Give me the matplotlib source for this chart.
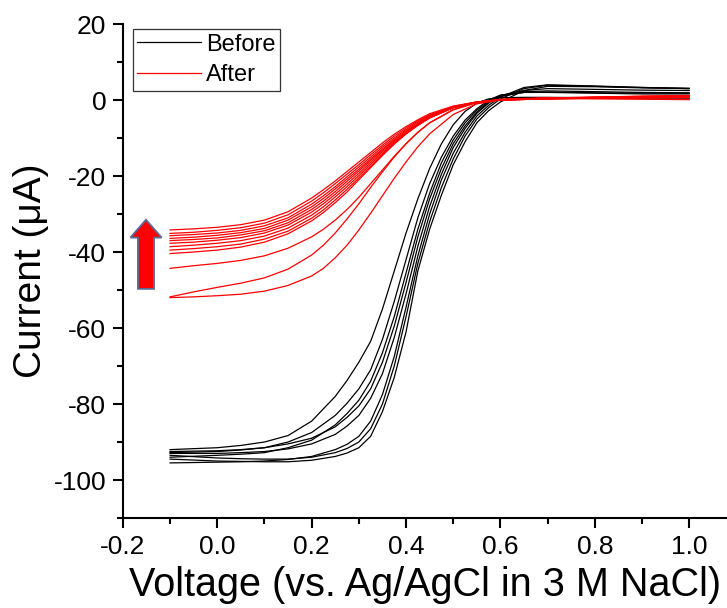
import numpy as np
import matplotlib
matplotlib.use('Agg')
import matplotlib.pyplot as plt
import matplotlib.patches as mpatches

plt.rcParams['font.family'] = ['Liberation Sans', 'DejaVu Sans']
plt.rcParams['axes.unicode_minus'] = False

# potential grids (V vs Ag/AgCl)
volt_before = [-0.1, 0.0, 0.05, 0.1, 0.15, 0.2, 0.25, 0.275, 0.3, 0.325, 0.35, 0.375, 0.4,
               0.425, 0.45, 0.475, 0.5, 0.525, 0.55, 0.575, 0.6, 0.65, 0.7, 0.8, 0.9, 1.0]
volt_after = [-0.1, -0.05, 0.0, 0.05, 0.1, 0.15, 0.2, 0.225, 0.25, 0.275, 0.3, 0.325,
              0.35, 0.375, 0.4, 0.425, 0.45, 0.5, 0.55, 0.6, 0.7, 0.8, 0.9, 1.0]

# current traces (uA), one list per sweep
before_currents = [
    [-94.5, -95.0, -95.1, -95.2, -95.2, -94.8, -93.8, -92.9, -91.5, -88.5, -82.0, -73.0, -61.0,
     -45.0, -34.0, -25.0, -17.0, -11.0, -6.0, -2.8, -0.5, 2.5, 3.6, 3.5, 3.2, 3.0],
    [-93.5, -94.2, -94.4, -94.5, -94.5, -94.0, -92.8, -91.7, -90.0, -86.5, -80.0, -70.0, -57.0,
     -43.0, -32.0, -23.0, -15.5, -9.5, -5.0, -2.0, 0.3, 3.0, 3.9, 3.6, 3.3, 3.1],
    [-95.5, -95.3, -95.2, -95.0, -94.6, -93.8, -92.0, -90.6, -88.5, -84.5, -77.5, -67.5, -54.5,
     -41.0, -30.0, -21.0, -14.0, -8.5, -4.2, -1.4, 0.8, 3.3, 4.0, 3.7, 3.3, 3.0],
    [-93.0, -93.0, -92.8, -92.5, -91.8, -90.5, -88.0, -85.8, -83.0, -78.5, -72.0, -62.5, -51.0,
     -38.5, -28.0, -19.5, -12.5, -7.5, -3.5, -0.8, 1.0, 2.2, 2.4, 2.2, 2.0, 1.9],
    [-92.5, -92.3, -92.0, -91.5, -90.5, -89.0, -86.0, -83.5, -80.5, -76.0, -69.0, -59.5, -48.0,
     -36.0, -26.0, -18.0, -11.5, -6.8, -3.2, -0.6, 1.0, 2.0, 2.1, 1.9, 1.8, 1.8],
    [-94.0, -93.5, -93.2, -92.8, -91.5, -89.5, -85.5, -82.5, -79.0, -74.0, -66.5, -57.0, -45.5,
     -34.0, -24.5, -16.5, -10.5, -6.0, -2.7, -0.3, 1.2, 2.5, 3.0, 2.8, 2.6, 2.5],
    [-92.8, -92.5, -92.1, -91.5, -90.0, -87.5, -83.0, -79.8, -76.0, -71.0, -63.0, -53.0, -42.0,
     -31.0, -22.0, -15.0, -9.5, -5.3, -2.3, 0.0, 1.3, 2.0, 2.0, 1.8, 1.6, 1.6],
    [-92.0, -91.5, -90.9, -90.0, -88.3, -84.5, -78.0, -73.8, -69.0, -63.5, -55.0, -45.0, -35.0,
     -26.0, -18.0, -11.5, -6.5, -3.0, -0.8, 0.3, 0.6, 0.7, 0.7, 0.6, 0.5, 0.5],
]

after_currents = [
    [-52.0, -51.8, -51.5, -51.1, -50.3, -48.8, -46.3, -44.3, -41.5, -38.2, -34.2, -29.8,
     -25.2, -20.6, -16.3, -12.3, -8.9, -3.8, -1.0, 0.0, 0.4, 0.3, 0.2, 0.1],
    [-51.8, -50.5, -49.3, -48.2, -46.8, -44.5, -40.8, -38.2, -35.0, -31.3, -27.3, -23.0,
     -18.9, -15.0, -11.5, -8.5, -6.0, -2.5, -0.6, 0.2, 0.6, 0.7, 0.8, 0.8],
    [-44.3, -43.6, -43.0, -42.2, -41.0, -39.0, -36.0, -34.0, -31.6, -28.8, -25.6, -22.0,
     -18.4, -14.8, -11.5, -8.5, -6.0, -2.6, -0.7, 0.1, 0.5, 0.6, 0.6, 0.6],
    [-34.2, -33.9, -33.5, -32.8, -31.6, -29.4, -25.8, -23.6, -21.3, -18.8, -16.3, -13.8,
     -11.3, -9.0, -7.0, -5.2, -3.6, -1.6, -0.5, 0.0, 0.3, 0.5, 0.6, 0.7],
    [-35.1, -34.8, -34.3, -33.6, -32.4, -30.2, -26.6, -24.4, -22.0, -19.5, -17.0, -14.4,
     -11.9, -9.5, -7.4, -5.5, -3.9, -1.7, -0.5, 0.0, 0.3, 0.5, 0.6, 0.7],
    [-35.7, -35.4, -35.0, -34.3, -33.1, -31.0, -27.4, -25.2, -22.8, -20.2, -17.6, -15.0,
     -12.4, -10.0, -7.8, -5.8, -4.1, -1.8, -0.5, 0.0, 0.3, 0.5, 0.7, 0.8],
    [-36.4, -36.1, -35.6, -34.9, -33.8, -31.6, -28.1, -25.9, -23.4, -20.8, -18.2, -15.5,
     -12.9, -10.4, -8.1, -6.1, -4.3, -1.9, -0.6, 0.0, 0.3, 0.6, 0.8, 0.9],
    [-37.0, -36.7, -36.3, -35.5, -34.4, -32.3, -28.8, -26.6, -24.1, -21.4, -18.7, -15.9,
     -13.2, -10.7, -8.4, -6.3, -4.5, -2.0, -0.6, 0.0, 0.4, 0.6, 0.8, 0.9],
    [-37.7, -37.4, -36.9, -36.2, -35.0, -32.9, -29.5, -27.3, -24.8, -22.1, -19.3, -16.4,
     -13.6, -11.0, -8.6, -6.4, -4.6, -2.0, -0.6, 0.0, 0.4, 0.6, 0.9, 1.0],
    [-38.6, -38.2, -37.7, -37.0, -35.8, -33.7, -30.3, -28.1, -25.5, -22.8, -19.9, -16.9,
     -14.0, -11.3, -8.8, -6.6, -4.7, -2.0, -0.6, 0.1, 0.4, 0.7, 0.9, 1.1],
    [-39.5, -39.1, -38.6, -37.9, -36.6, -34.5, -31.1, -28.9, -26.3, -23.5, -20.5, -17.4,
     -14.4, -11.5, -8.9, -6.7, -4.7, -2.0, -0.6, 0.1, 0.5, 0.7, 1.0, 1.1],
    [-40.4, -40.0, -39.5, -38.7, -37.4, -35.2, -31.8, -29.6, -27.0, -24.2, -21.0, -17.8,
     -14.6, -11.6, -8.9, -6.6, -4.7, -2.0, -0.6, 0.1, 0.5, 0.8, 1.0, 1.2],
]

# arrow showing the drop in current
arrow_x = -0.151
arrow_y0 = -49.7
arrow_y1 = -31.5

fig = plt.figure(figsize=(7.27, 6.08), dpi=100)
ax = fig.add_axes([0.169, 0.148, 0.831, 0.8125])

for i, cur in enumerate(before_currents):
    ax.plot(volt_before, cur, color='black', lw=0.9,
            label='Before' if i == 0 else None)
for i, cur in enumerate(after_currents):
    ax.plot(volt_after, cur, color='red', lw=0.9,
            label='After' if i == 0 else None)

arr = mpatches.FancyArrow(arrow_x, arrow_y0, 0, arrow_y1 - arrow_y0, width=0.034,
                          head_width=0.066, head_length=4.7, length_includes_head=True,
                          facecolor='#ff0000', edgecolor='#5a6a96', linewidth=1.3)
ax.add_patch(arr)

ax.set_xlim(-0.2, 1.08)
ax.set_ylim(-110, 20)
ax.set_xticks(np.arange(-0.2, 1.01, 0.2))
ax.set_xticks(np.arange(-0.1, 1.01, 0.2), minor=True)
ax.set_yticks(np.arange(-100, 21, 20))
ax.set_yticks(np.arange(-110, 20, 20), minor=True)
ax.xaxis.set_major_formatter(matplotlib.ticker.FormatStrFormatter('%.1f'))

ax.spines['top'].set_visible(False)
ax.spines['right'].set_visible(False)
ax.spines['left'].set_linewidth(1.5)
ax.spines['bottom'].set_linewidth(1.5)
ax.tick_params(which='major', direction='out', length=7, width=1.5, labelsize=19, pad=5)
ax.tick_params(which='minor', direction='out', length=4, width=1.5)

ax.set_xlabel('Voltage (vs. Ag/AgCl in 3 M NaCl)', fontsize=28.5, labelpad=5)
ax.set_ylabel('Current (\u03bcA)', fontsize=28, labelpad=3)

leg = ax.legend(loc='upper left', bbox_to_anchor=(0.016, 0.99), fontsize=17,
                frameon=True, fancybox=False, handlelength=2.7, handletextpad=0.2,
                borderpad=0.2, labelspacing=0.35, borderaxespad=0)
leg.get_frame().set_edgecolor('black')
leg.get_frame().set_linewidth(0.9)

fig.savefig('out.png', dpi=100)
